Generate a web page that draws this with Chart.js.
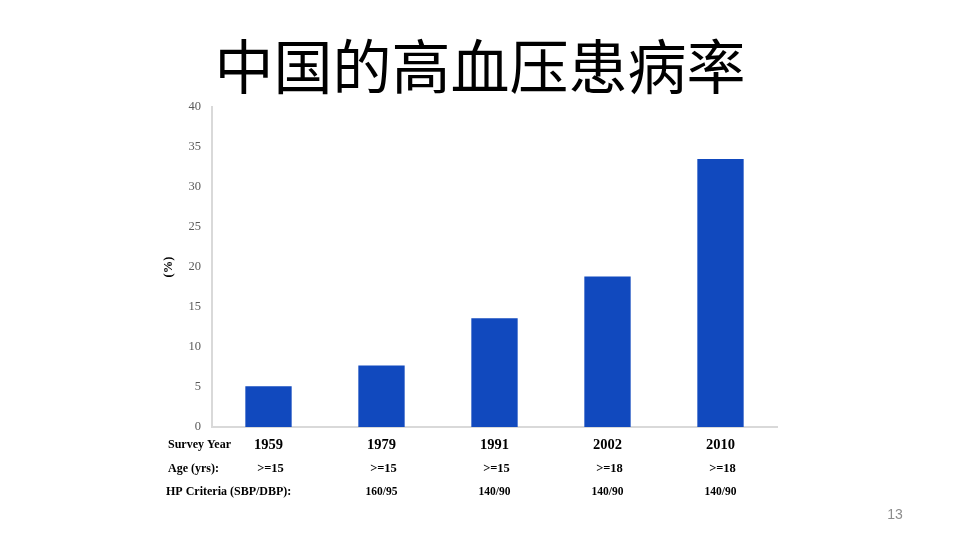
<!DOCTYPE html>
<html>
<head>
<meta charset="utf-8">
<script src="https://cdn.jsdelivr.net/npm/chart.js@4.4.1/dist/chart.umd.min.js"></script>
<style>
  html, body { margin: 0; padding: 0; background: #fff; }
  #wrap { position: relative; width: 960px; height: 540px; overflow: hidden; }
  #title { position: absolute; left: 0; width: 960px; top: 26px; text-align: center;
           font-family: "Noto Sans CJK SC", sans-serif; font-size: 59px; line-height: 76px; color: #000; }
  #page { position: absolute; left: 880px; top: 506px; width: 30px; text-align: center;
          font-family: "Liberation Sans", sans-serif; font-size: 14px; color: #8c8c8c; }
  canvas { position: absolute; left: 0; top: 0; }
</style>
</head>
<body>
<div id="wrap">
  <div id="title">中国的高血压患病率</div>
  <canvas id="c" width="960" height="540"></canvas>
  <div id="page">13</div>
</div>
<script>
const surveyYears = ["1959", "1979", "1991", "2002", "2010"];
const ageRanges = [">=15", ">=15", ">=15", ">=18", ">=18"];
const hpCriteria = ["", "160/95", "140/90", "140/90", "140/90"];
const prevalence = [5.1, 7.7, 13.6, 18.8, 33.5];
const rowLabels = ["Survey Year", "Age (yrs):", "HP Criteria (SBP/DBP):"];
const yTicks = [0, 5, 10, 15, 20, 25, 30, 35, 40];

const tablePlugin = {
  id: 'tableRows',
  afterDraw(chart) {
    const ctx = chart.ctx;
    const xs = chart.scales.x;
    ctx.save();
    ctx.fillStyle = '#000';
    ctx.textBaseline = 'middle';
    ctx.textAlign = 'left';
    ctx.font = 'bold 12px "Liberation Serif", serif';
    ctx.fillText(rowLabels[0], 168, 445);
    ctx.fillText(rowLabels[1], 168, 469);
    ctx.fillText(rowLabels[2], 166, 492);
    ctx.textAlign = 'center';
    surveyYears.forEach((y, i) => {
      const x = xs.getPixelForValue(i);
      ctx.font = 'bold 14.5px "Liberation Serif", serif';
      ctx.fillText(y, x, 445);
      ctx.font = 'bold 12.5px "Liberation Serif", serif';
      ctx.fillText(ageRanges[i], x + 2, 469);
      ctx.font = 'bold 11.5px "Liberation Serif", serif';
      ctx.fillText(hpCriteria[i], x, 492);
    });
    ctx.restore();
  }
};

new Chart(document.getElementById('c'), {
  type: 'bar',
  data: {
    labels: surveyYears,
    datasets: [{
      data: prevalence,
      backgroundColor: '#1149BE',
      borderWidth: 0,
      categoryPercentage: 1.0,
      barPercentage: 0.41
    }]
  },
  options: {
    responsive: false,
    animation: false,
    events: [],
    layout: { padding: { left: 150, right: 183, top: 107, bottom: 113 } },
    plugins: { legend: { display: false }, tooltip: { enabled: false }, title: { display: false } },
    scales: {
      x: {
        grid: { display: false, drawTicks: false },
        border: { display: true, color: '#d9d9d9', width: 2 },
        ticks: { display: false },
        afterFit(s) { s.height = 0; s.paddingLeft = 0; s.paddingRight = 0; }
      },
      y: {
        min: 0, max: 40,
        afterBuildTicks(s) { s.ticks = yTicks.map(v => ({ value: v })); },
        grid: { display: false, drawTicks: false },
        border: { display: true, color: '#d9d9d9', width: 2 },
        ticks: {
          color: '#595959',
          padding: 11,
          font: { family: '"Liberation Serif", serif', size: 12.5 }
        },
        title: {
          display: true,
          text: '(%)',
          color: '#000',
          padding: { top: 11, bottom: 0 },
          font: { family: '"Liberation Serif", serif', size: 12.5, weight: 'bold' }
        },
        afterFit(s) { s.width = 62; s.paddingTop = 0; s.paddingBottom = 0; }
      }
    }
  },
  plugins: [tablePlugin]
});
</script>
</body>
</html>
